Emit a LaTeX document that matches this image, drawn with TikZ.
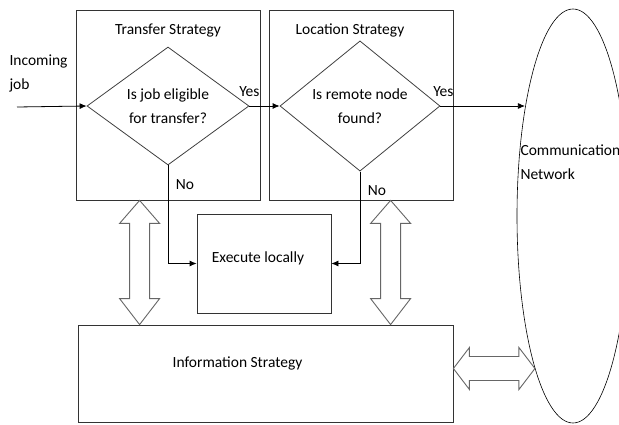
\documentclass[tikz,border=0pt]{standalone}
\usepackage{fontspec}
\setmainfont{Carlito}
\usetikzlibrary{arrows.meta,calc,positioning,shapes.geometric}

\begin{document}
\begin{tikzpicture}[
    x=1pt,y=-1pt,
    font=\fontsize{15.5}{24}\selectfont,
    box/.style={draw=black!80,line width=0.8pt,inner sep=0pt},
    decision/.style={draw=black!75,line width=0.8pt,diamond,inner sep=0pt,
      minimum width=162pt,minimum height=118pt,align=center},
    arr/.style={-{Latex[length=7pt,width=6pt]},line width=0.8pt},
    fat/.style={draw=black!60,line width=0.9pt,fill=white}
  ]
    \useasboundingbox (0,0) rectangle (619,425);

    % strategy boxes
    \node[box,minimum width=184pt,minimum height=190pt,
      label={[anchor=center,yshift=-21pt]north:Transfer Strategy}] (trans) at (168,105) {};
    \node[box,minimum width=184pt,minimum height=190pt,
      label={[anchor=center,xshift=-11pt,yshift=-21pt]north:Location Strategy}] (loc) at (361,105) {};
    \node[box,minimum width=134pt,minimum height=99pt,
      label={[anchor=center,xshift=-6pt,yshift=5pt]center:Execute locally}] (exec) at (264,263.5) {};
    \node[box,minimum width=375pt,minimum height=97pt,
      label={[anchor=center,xshift=-28pt,yshift=10pt]center:Information Strategy}] (info) at (265.5,373.5) {};

    % decisions
    \node[decision] (d1) at (168,106) {Is job eligible\\for transfer?};
    \node[decision,minimum width=160pt] (d2) at (360,106) {Is remote node\\found?};

    % network
    \node[draw,ellipse,line width=0.6pt,inner sep=0pt,minimum width=112pt,
      minimum height=414pt] (net) at (573,216) {};
    \node[anchor=west,align=left] (netlabel) at (517,162) {Communication\\Network};

    \node[anchor=west,align=left] (incoming) at (6,73) {Incoming\\job};
    \coordinate (start) at (17,107);

    \draw[arr] (start) -- (d1.west);
    \draw[arr] (d1.east) -- (d2.west);
    \draw[arr] (d2.east) -- (d2.east -| net.114);
    \draw[arr] (d1.south) |- (exec.west);
    \draw[arr] (d2.south) |- (exec.east);
    \node (yes1) at ($(d1.east)+(0,-14)$) {Yes};
    \node (yes2) at ($(d2.east)+(3,-14)$) {Yes};
    \node (no1) at ($(d1.south)+(17,19)$) {No};
    \node (no2) at ($(d2.south)+(17,19)$) {No};

    % hollow double arrows
    \path (trans.south west) ++(64,0) coordinate (ta);
    \coordinate (tb) at (ta |- info.north);
    \draw[fat] (ta) -- ++(20,23) -- ++(-10,0) -- ($(tb)+(10,-26)$) -- ++(10,0)
      -- (tb) -- ++(-20,-26) -- ++(10,0) -- ($(ta)+(-10,23)$) -- ++(-10,0) -- cycle;
    \path (loc.south west) ++(122,0) coordinate (la);
    \coordinate (lb) at (la |- info.north);
    \draw[fat] (la) -- ++(20,23) -- ++(-10,0) -- ($(lb)+(10,-26)$) -- ++(10,0)
      -- (lb) -- ++(-20,-26) -- ++(10,0) -- ($(la)+(-10,23)$) -- ++(-10,0) -- cycle;
    \coordinate (ia) at ($(info.east)+(0,-5)$);
    \coordinate (ib) at (ia -| net.256);
    \draw[fat] (ia) -- ++(16,-21) -- ++(0,9) -- ($(ib)+(-16,-12)$) -- ++(0,-9)
      -- (ib) -- ++(-16,21) -- ++(0,-9) -- ($(ia)+(16,12)$) -- ++(0,9) -- cycle;
\end{tikzpicture}
\end{document}
